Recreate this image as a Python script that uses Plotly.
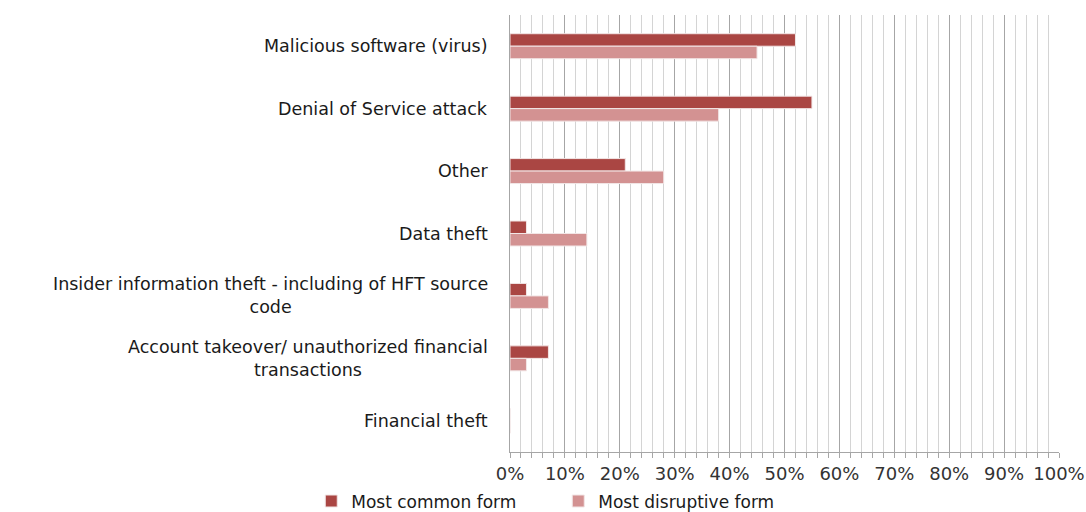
import plotly.graph_objects as go

categories = [
    "Malicious software (virus)",
    "Denial of Service attack",
    "Other",
    "Data theft",
    "Insider information theft - including of HFT source<br>code",
    "Account takeover/ unauthorized financial<br>transactions",
    "Financial theft",
]
most_common = [0.52, 0.55, 0.21, 0.03, 0.03, 0.07, 0.0]
most_disruptive = [0.45, 0.38, 0.28, 0.14, 0.07, 0.03, 0.0]
series_names = ["Most common form", "Most disruptive form"]
x_ticks = [i / 10 for i in range(11)]

FONT = "DejaVu Sans"
FS = 18

fig = go.Figure()
fig.add_trace(go.Bar(
    y=categories, x=most_common, orientation="h", name=series_names[0],
    marker=dict(color="#AA4643", line=dict(color="#f2e6e6", width=1)),
))
fig.add_trace(go.Bar(
    y=categories, x=most_disruptive, orientation="h", name=series_names[1],
    marker=dict(color="#D39292", line=dict(color="#f2e6e6", width=1)),
))

for c in categories:
    fig.add_annotation(
        x=0, xref="paper", xanchor="right", xshift=-20,
        y=c, yref="y", yanchor="middle",
        text=c, showarrow=False, align="center",
        font=dict(family=FONT, size=FS - 0.5, color="#1a1a1a"),
    )

fig.update_layout(
    width=1086, height=512,
    margin=dict(l=510, r=27, t=15, b=60, autoexpand=False),
    paper_bgcolor="white", plot_bgcolor="white",
    barmode="group", bargap=0.6, bargroupgap=0.0,
    font=dict(family=FONT, size=FS, color="#333333"),
    legend=dict(orientation="h", x=-0.362, xanchor="left", y=-0.072, yanchor="top",
                font=dict(family=FONT, size=FS - 1, color="#1a1a1a"),
                itemwidth=30, tracegroupgap=0, entrywidth=202, entrywidthmode="pixels"),
    xaxis=dict(
        range=[0, 1], tickvals=x_ticks, tickformat=".0%",
        showgrid=True, gridcolor="#a6a6a6", gridwidth=1,
        minor=dict(dtick=0.02, showgrid=True, gridcolor="#d4d4d4", gridwidth=1,
                   ticks="outside", ticklen=5, tickcolor="#a6a6a6"),
        ticks="outside", ticklen=5, tickcolor="#a6a6a6",
        showline=True, linecolor="#a6a6a6", linewidth=1, automargin=False,
        zeroline=False, tickfont=dict(family=FONT, size=FS, color="#333333"),
    ),
    yaxis=dict(
        autorange="reversed", showticklabels=False, showgrid=False, automargin=False,
        showline=True, linecolor="#a6a6a6", linewidth=1, ticks="",
    ),
)

fig.write_html("out.html")
